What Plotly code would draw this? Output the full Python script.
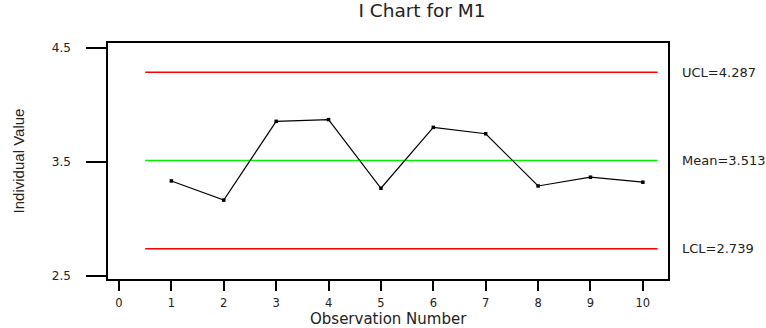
import plotly.graph_objects as go

obs = [1, 2, 3, 4, 5, 6, 7, 8, 9, 10]
values = [3.334, 3.166, 3.857, 3.872, 3.270, 3.804, 3.748, 3.290, 3.367, 3.323]
ucl = 4.287
mean = 3.513
lcl = 2.739
line_span = [0.5, 10.28]
x_ticks = [0, 1, 2, 3, 4, 5, 6, 7, 8, 9, 10]
y_ticks = [2.5, 3.5, 4.5]

FONT = "Liberation Sans, Arial, sans-serif"
WIDE = "DejaVu Sans"

fig = go.Figure()
fig.add_trace(go.Scatter(x=line_span, y=[ucl, ucl], mode="lines",
                         line=dict(color="#ff0000", width=1.5), hoverinfo="skip"))
fig.add_trace(go.Scatter(x=line_span, y=[mean, mean], mode="lines",
                         line=dict(color="#00ee00", width=1.5), hoverinfo="skip"))
fig.add_trace(go.Scatter(x=line_span, y=[lcl, lcl], mode="lines",
                         line=dict(color="#ff0000", width=1.5), hoverinfo="skip"))
fig.add_trace(go.Scatter(x=obs, y=values, mode="lines+markers",
                         line=dict(color="black", width=1.2),
                         marker=dict(symbol="square", size=3.5, color="black")))

for label, val in [("UCL=" + f"{ucl:.3f}", ucl), ("Mean=" + f"{mean:.3f}", mean),
                   ("LCL=" + f"{lcl:.3f}", lcl)]:
    fig.add_annotation(x=1, xref="paper", xshift=12, y=val, yref="y", text=label,
                       showarrow=False, xanchor="left", yanchor="middle",
                       font=dict(family=WIDE, size=13, color="#222"))

# x-axis title placed as an annotation for precise spacing under the tick labels
fig.add_annotation(x=0.5, xref="paper", y=0, yref="paper", yshift=-29,
                   text="Observation Number", showarrow=False,
                   xanchor="center", yanchor="top",
                   font=dict(family=WIDE, size=15, color="#222"))

fig.update_layout(
    width=766, height=328,
    margin=dict(l=108, r=98, t=43, b=49),
    paper_bgcolor="white", plot_bgcolor="white",
    showlegend=False,
    title=dict(text="I Chart for M1", x=422 / 766, xref="container", xanchor="center",
               y=1 - 10.5 / 328, yref="container", yanchor="middle",
               font=dict(family=WIDE, size=18.5, color="#222")),
    font=dict(family=FONT, color="black"),
)
fig.update_xaxes(range=[-0.21, 10.48], tickvals=x_ticks, ticks="outside", ticklen=10,
                 tickwidth=1.5, tickcolor="black", showgrid=False, zeroline=False,
                 showline=True, mirror=True, linecolor="black", linewidth=1.5,
                 automargin=False,
                 tickfont=dict(family=WIDE, size=11.5, color="#222"), ticklabelstandoff=2)
fig.update_yaxes(range=[2.474, 4.544], tickvals=y_ticks, ticktext=["2.5", "3.5", "4.5"],
                 ticks="outside", ticklen=20, tickwidth=1.5, tickcolor="black",
                 showgrid=False, zeroline=False, showline=True, mirror=True,
                 linecolor="black", linewidth=1.5, automargin=False,
                 tickfont=dict(family=WIDE, size=12, color="#222"), ticklabelstandoff=13,
                 title=dict(text="Individual Value", standoff=24,
                            font=dict(family=FONT, size=15, color="#222")))

fig.write_html("out.html", config={"displayModeBar": False},
               post_script="document.body.style.margin='0';document.body.style.overflow='hidden';")
